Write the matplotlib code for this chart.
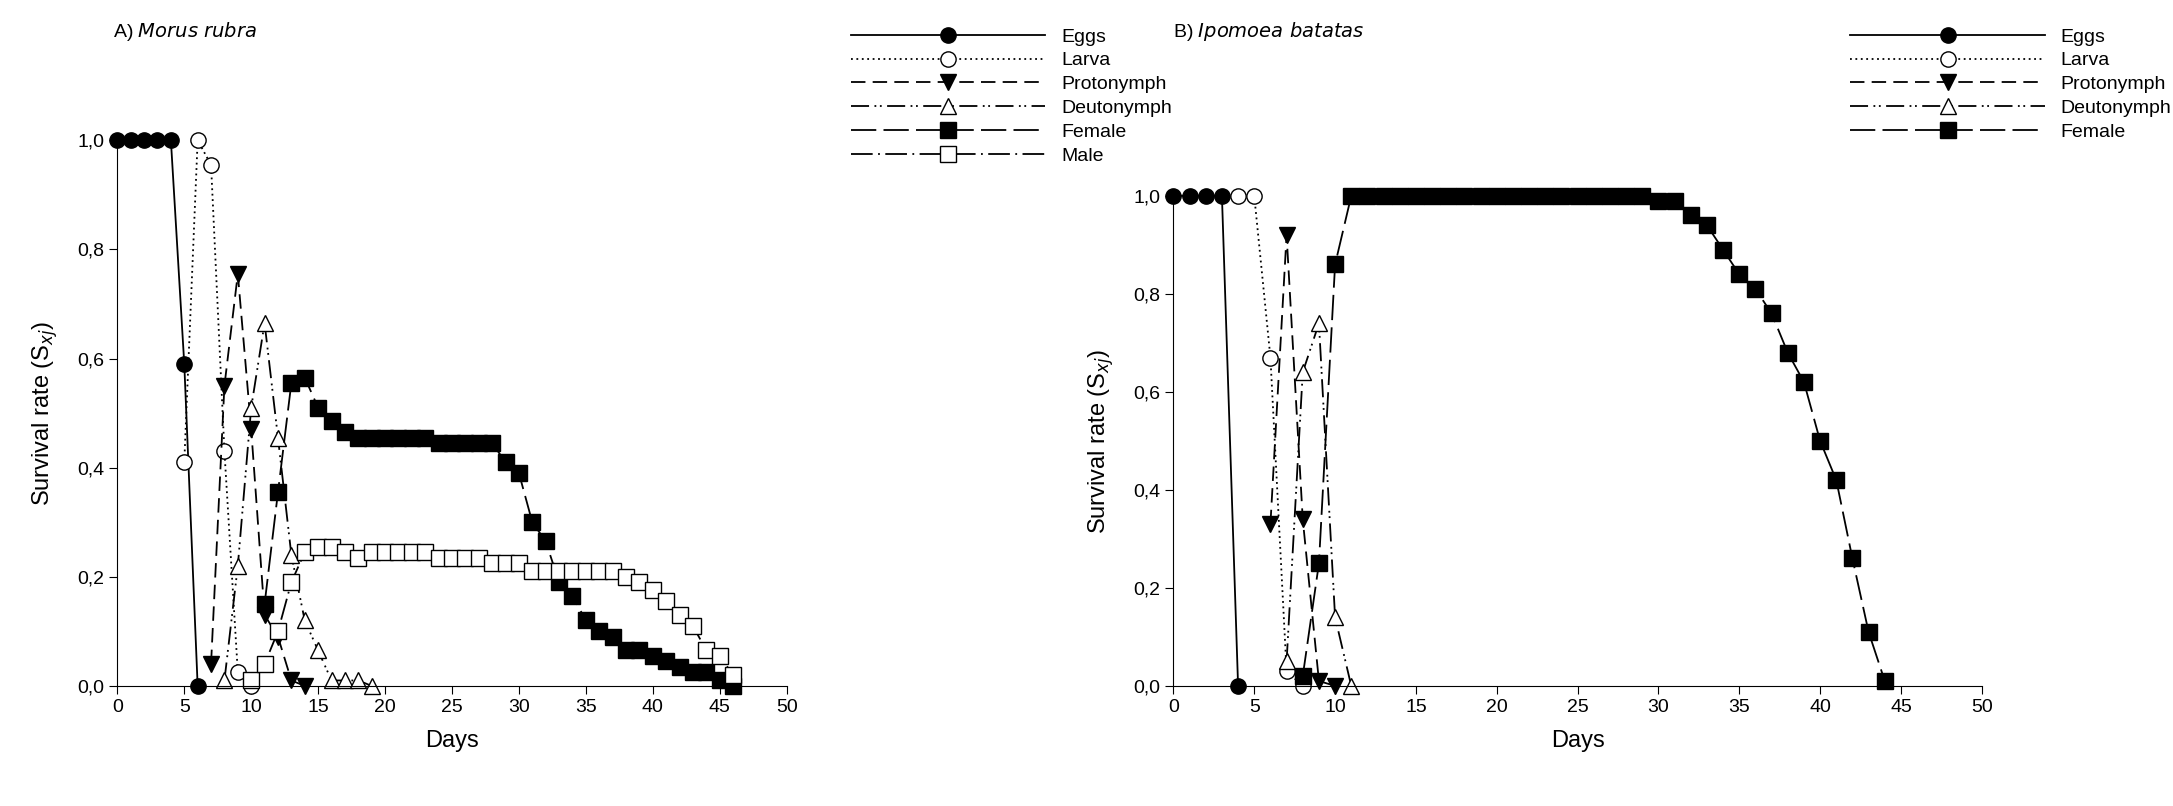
import numpy as np
import matplotlib.pyplot as plt

plt.rcParams['font.family'] = ['Liberation Sans', 'DejaVu Sans']

# ─── Panel A: Morus rubra ─────────────────────────────
a_eggs_x = [0, 1, 2, 3, 4, 5, 6]
a_eggs_y = [1.0, 1.0, 1.0, 1.0, 1.0, 0.59, 0.0]
a_larva_x = [5, 6, 7, 8, 9, 10]
a_larva_y = [0.41, 1.0, 0.955, 0.43, 0.025, 0.0]
a_proto_x = [7, 8, 9, 10, 11, 12, 13, 14]
a_proto_y = [0.04, 0.55, 0.755, 0.47, 0.13, 0.09, 0.01, 0.0]
a_deuto_x = [8, 9, 10, 11, 12, 13, 14, 15, 16, 17, 18, 19]
a_deuto_y = [0.01, 0.22, 0.51, 0.665, 0.455, 0.24, 0.12, 0.065, 0.01, 0.01, 0.01, 0.0]
a_fem_x = list(range(11, 47))
a_fem_y = [0.15, 0.355, 0.555, 0.565, 0.51, 0.485, 0.465,
           0.455, 0.455, 0.455, 0.455, 0.455, 0.455,
           0.445, 0.445, 0.445, 0.445, 0.445,
           0.41, 0.39, 0.30, 0.265, 0.19, 0.165, 0.12, 0.10, 0.09,
           0.065, 0.065, 0.055, 0.045, 0.035, 0.025, 0.025, 0.01, 0.0]
a_male_x = list(range(10, 47))
a_male_y = [0.01, 0.04, 0.10, 0.19, 0.245, 0.255, 0.255, 0.245, 0.235,
            0.245, 0.245, 0.245, 0.245, 0.245,
            0.235, 0.235, 0.235, 0.235,
            0.225, 0.225, 0.225,
            0.21, 0.21, 0.21, 0.21, 0.21, 0.21, 0.21,
            0.20, 0.19, 0.175, 0.155, 0.13, 0.11, 0.065, 0.055, 0.02]

# ─── Panel B: Ipomoea batatas ─────────────────────────
b_eggs_x = [0, 1, 2, 3, 4]
b_eggs_y = [1.0, 1.0, 1.0, 1.0, 0.0]
b_larva_x = [4, 5, 6, 7, 8]
b_larva_y = [1.0, 1.0, 0.67, 0.03, 0.0]
b_proto_x = [6, 7, 8, 9, 10]
b_proto_y = [0.33, 0.92, 0.34, 0.01, 0.0]
b_deuto_x = [7, 8, 9, 10, 11]
b_deuto_y = [0.05, 0.64, 0.74, 0.14, 0.0]
b_fem_x = list(range(8, 45))
b_fem_y = [0.02, 0.25, 0.86] + [1.0] * 19 + [
    0.99, 0.99, 0.96, 0.94, 0.89, 0.84, 0.81, 0.76, 0.68, 0.62,
    0.50, 0.42, 0.26, 0.11, 0.01]

styles = {
    'Eggs':       dict(ls='-', marker='o', mfc='black'),
    'Larva':      dict(ls=(0, (1, 2)), marker='o', mfc='white'),
    'Protonymph': dict(ls=(0, (8, 4)), marker='v', mfc='black'),
    'Deutonymph': dict(ls=(0, (10, 3, 1, 2, 1, 3)), marker='^', mfc='white'),
    'Female':     dict(ls=(0, (14, 4)), marker='s', mfc='black'),
    'Male':       dict(ls=(0, (12, 3, 1, 3)), marker='s', mfc='white'),
}


def draw(ax, series):
    for name, x, y in series:
        st = styles[name]
        ax.plot(x, y, color='black', lw=1.3, ls=st['ls'], marker=st['marker'],
                mfc=st['mfc'], mec='black', ms=11, clip_on=False, label=name)
    ax.set_xlim(0, 50)
    ax.set_ylim(0, 1.0)
    ax.set_xticks(range(0, 51, 5))
    ticks = np.arange(0, 1.01, 0.2)
    ax.set_yticks(ticks)
    ax.set_yticklabels([f"{v:.1f}".replace('.', ',') for v in ticks])
    ax.spines['top'].set_visible(False)
    ax.spines['right'].set_visible(False)
    ax.tick_params(labelsize=14, direction='out', length=6)
    ax.set_xlabel('Days', fontsize=17, labelpad=10)
    ax.set_ylabel('Survival rate (S$_{xj}$)', fontsize=17, labelpad=12)


fig = plt.figure(figsize=(21.73, 8.06), dpi=100)
axA = fig.add_axes([0.054, 0.149, 0.308, 0.677])
axB = fig.add_axes([0.540, 0.149, 0.372, 0.608])

draw(axA, [('Eggs', a_eggs_x, a_eggs_y), ('Larva', a_larva_x, a_larva_y),
           ('Protonymph', a_proto_x, a_proto_y), ('Deutonymph', a_deuto_x, a_deuto_y),
           ('Female', a_fem_x, a_fem_y), ('Male', a_male_x, a_male_y)])
draw(axB, [('Eggs', b_eggs_x, b_eggs_y), ('Larva', b_larva_x, b_larva_y),
           ('Protonymph', b_proto_x, b_proto_y), ('Deutonymph', b_deuto_x, b_deuto_y),
           ('Female', b_fem_x, b_fem_y)])

hA, lA = axA.get_legend_handles_labels()
fig.legend(hA, lA, loc='upper left', bbox_to_anchor=(0.388, 0.975), frameon=False,
           fontsize=14, handlelength=10, labelspacing=0.32, handletextpad=0.8,
           borderaxespad=0)
hB, lB = axB.get_legend_handles_labels()
fig.legend(hB, lB, loc='upper left', bbox_to_anchor=(0.848, 0.975), frameon=False,
           fontsize=14, handlelength=10, labelspacing=0.32, handletextpad=0.8,
           borderaxespad=0)

fig.text(0.052, 0.975, 'A) $\\it{Morus\\ rubra}$', fontsize=14, va='top')
fig.text(0.540, 0.975, 'B) $\\it{Ipomoea\\ batatas}$', fontsize=14, va='top')

fig.savefig('out.png', dpi=100)
